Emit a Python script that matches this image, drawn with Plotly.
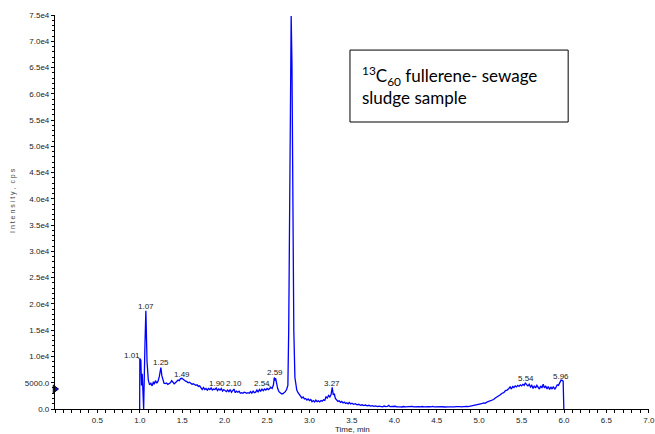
import plotly.graph_objects as go

# ---- data ----
time_min = [
    0.998, 1.000, 1.012, 1.020, 1.028, 1.036, 1.045, 1.060, 1.071, 1.085,
    1.100, 1.115, 1.130, 1.145, 1.160, 1.170, 1.185, 1.200, 1.215, 1.230,
    1.248, 1.260, 1.272, 1.285, 1.300, 1.315, 1.330, 1.345, 1.360, 1.375,
    1.390, 1.405, 1.420, 1.435, 1.450, 1.465, 1.480, 1.495, 1.510, 1.525,
    1.540, 1.555, 1.570, 1.585, 1.600, 1.615, 1.630, 1.645, 1.660, 1.675,
    1.690, 1.705, 1.720, 1.735, 1.750, 1.765, 1.780, 1.795, 1.810, 1.825,
    1.840, 1.855, 1.870, 1.885, 1.900, 1.915, 1.930, 1.945, 1.960, 1.975,
    1.990, 2.005, 2.020, 2.035, 2.050, 2.065, 2.080, 2.095, 2.110, 2.125,
    2.140, 2.155, 2.170, 2.185, 2.200, 2.215, 2.230, 2.245, 2.260, 2.275,
    2.290, 2.305, 2.320, 2.335, 2.350, 2.365, 2.380, 2.395, 2.410, 2.425,
    2.440, 2.455, 2.470, 2.485, 2.500, 2.515, 2.530, 2.545, 2.560, 2.575,
    2.585, 2.592, 2.600, 2.612, 2.625, 2.640, 2.655, 2.670, 2.685, 2.700,
    2.715, 2.730, 2.745, 2.755, 2.765, 2.775, 2.784, 2.793, 2.803, 2.815,
    2.828, 2.840, 2.850, 2.865, 2.880, 2.895, 2.910, 2.925, 2.940, 2.955,
    2.970, 2.985, 3.000, 3.015, 3.030, 3.045, 3.060, 3.075, 3.090, 3.105,
    3.120, 3.135, 3.150, 3.165, 3.180, 3.195, 3.210, 3.225, 3.240, 3.255,
    3.268, 3.280, 3.292, 3.305, 3.320, 3.335, 3.350, 3.365, 3.380, 3.395,
    3.410, 3.425, 3.440, 3.455, 3.470, 3.485, 3.500, 3.520, 3.540, 3.560,
    3.580, 3.600, 3.620, 3.640, 3.660, 3.680, 3.700, 3.720, 3.740, 3.760,
    3.780, 3.800, 3.820, 3.840, 3.860, 3.880, 3.900, 3.920, 3.935, 3.950,
    3.970, 3.990, 4.010, 4.030, 4.050, 4.070, 4.090, 4.110, 4.130, 4.150,
    4.170, 4.190, 4.210, 4.230, 4.250, 4.270, 4.290, 4.310, 4.330, 4.350,
    4.370, 4.390, 4.410, 4.430, 4.450, 4.470, 4.490, 4.510, 4.530, 4.550,
    4.570, 4.590, 4.610, 4.630, 4.650, 4.670, 4.690, 4.710, 4.730, 4.750,
    4.770, 4.790, 4.810, 4.830, 4.850, 4.870, 4.890, 4.910, 4.930, 4.950,
    4.970, 4.990, 5.010, 5.030, 5.050, 5.070, 5.090, 5.110, 5.130, 5.150,
    5.170, 5.190, 5.210, 5.230, 5.250, 5.270, 5.290, 5.310, 5.330, 5.350,
    5.365, 5.380, 5.395, 5.410, 5.425, 5.440, 5.455, 5.470, 5.485, 5.500,
    5.515, 5.530, 5.545, 5.560, 5.575, 5.590, 5.605, 5.620, 5.635, 5.650,
    5.665, 5.680, 5.695, 5.710, 5.725, 5.740, 5.755, 5.770, 5.785, 5.800,
    5.815, 5.830, 5.845, 5.860, 5.875, 5.890, 5.905, 5.920, 5.935, 5.950,
    5.965, 5.978, 5.990, 5.998,
]
intensity_cps = [
    0, 9600, 9300, 4500, 6700, 3000, 0, 12000, 18700, 9000,
    5500, 4600, 4900, 4400, 5200, 4700, 5400, 4900, 5300, 6200,
    7900, 6300, 5300, 4900, 4850, 4950, 4700, 4900, 5000, 5400,
    5100, 4800, 5000, 5300, 5500, 5400, 5800, 5850, 5600, 5500,
    5300, 5200, 5000, 5100, 4900, 4700, 4800, 4600, 4500, 4600,
    4300, 4400, 3900, 3700, 4100, 3700, 3900, 3600, 3900, 3700,
    4000, 3600, 3800, 3700, 4000, 3500, 3800, 3600, 3900, 3400,
    3700, 3500, 3300, 3600, 3300, 3700, 3200, 3500, 3800, 3100,
    3400, 3200, 3400, 3000, 3100, 3000, 3200, 3100, 3000, 3100,
    3000, 3300, 3000, 3400, 3100, 3200, 3600, 3200, 3700, 3400,
    3800, 3500, 3800, 3600, 3900, 3700, 3900, 4100, 3900, 4600,
    6000, 5400, 5900, 4700, 3900, 3300, 3000, 2900, 2900, 3100,
    3300, 3700, 4500, 15000, 40000, 68000, 74800, 66000, 40000, 15000,
    6000, 4000, 3600, 3100, 2700, 2500, 2100, 2300, 1900, 2000,
    1700, 1900, 1600, 1800, 1400, 1600, 1350, 1700, 1400, 1550,
    1350, 1600, 1500, 1750, 1650, 2300, 2100, 2600, 2300, 2800,
    4100, 2700, 2900, 2000, 1800, 1450, 1550, 1250, 1450, 1150,
    1300, 1050, 1200, 1000, 1250, 950, 1100, 900, 1000, 800,
    900, 700, 800, 650, 750, 600, 700, 550, 650, 500,
    600, 450, 550, 500, 420, 560, 450, 520, 700, 450,
    500, 420, 520, 400, 480, 420, 380, 470, 400, 450,
    380, 430, 500, 400, 460, 380, 440, 400, 470, 390,
    430, 380, 450, 400, 480, 390, 420, 380, 450, 400,
    430, 380, 460, 400, 420, 380, 450, 410, 470, 400,
    440, 420, 480, 430, 500, 450, 520, 480, 560, 600,
    700, 800, 900, 1000, 1150, 1100, 1300, 1400, 1600, 1700,
    1800, 2100, 2300, 2400, 2700, 3000, 3100, 3500, 3600, 3900,
    4200, 3800, 4300, 4100, 4400, 4200, 4500, 4300, 4600, 4400,
    4700, 4500, 5000, 4600, 4400, 4700, 4200, 4500, 3900, 4400,
    4000, 4500, 4100, 3800, 4400, 4000, 4700, 4000, 4400, 3800,
    4300, 3700, 4200, 3800, 4300, 3750, 4100, 4600, 4500, 5000,
    5500, 5450, 5300, 0,
]

peak_labels = ["1.01", "1.07", "1.25", "1.49", "1.90", "2.10",
               "2.54", "2.59", "2.79", "3.27", "5.54", "5.96"]
label_time = [0.906, 1.071, 1.248, 1.495, 1.908, 2.108,
              2.439, 2.592, 2.780, 3.264, 5.552, 5.965]
label_intensity = [10090, 19600, 8760, 6660, 4950, 4760,
                   4950, 7040, 76150, 4950, 5900, 6280]

cursor_time = [0.0]
cursor_intensity = [3800]

x_tick_vals = [0.5, 1.0, 1.5, 2.0, 2.5, 3.0, 3.5, 4.0, 4.5, 5.0, 5.5, 6.0, 6.5, 7.0]
x_tick_text = ["0.5", "1.0", "1.5", "2.0", "2.5", "3.0", "3.5", "4.0",
               "4.5", "5.0", "5.5", "6.0", "6.5", "7.0"]
y_tick_vals = [0, 5000, 10000, 15000, 20000, 25000, 30000, 35000, 40000,
               45000, 50000, 55000, 60000, 65000, 70000, 75000]
y_tick_text = ["0.0", "5000.0", "1.0e4", "1.5e4", "2.0e4", "2.5e4", "3.0e4",
               "3.5e4", "4.0e4", "4.5e4", "5.0e4", "5.5e4", "6.0e4", "6.5e4",
               "7.0e4", "7.5e4"]

FONT = "Liberation Sans, Arial, sans-serif"

fig = go.Figure()
fig.add_trace(go.Scatter(
    x=time_min, y=intensity_cps, mode="lines",
    line=dict(color="#0000ff", width=1.3), showlegend=False, hoverinfo="x+y",
))
fig.add_trace(go.Scatter(
    x=cursor_time, y=cursor_intensity, mode="markers", cliponaxis=False,
    marker=dict(symbol="triangle-right", size=7, color="#1010c0",
                line=dict(color="#000033", width=1)),
    showlegend=False, hoverinfo="skip",
))

for txt, tx, ty in zip(peak_labels, label_time, label_intensity):
    fig.add_annotation(x=tx, y=ty, text=txt, showarrow=False,
                       xanchor="center", yanchor="middle",
                       font=dict(family=FONT, size=8, color="#222222"))

# leader lines for the two offset labels
fig.add_annotation(x=1.0, y=9500, ax=-4, ay=-3, text="", showarrow=True,
                   arrowhead=0, arrowwidth=0.8, arrowcolor="#333333")
fig.add_annotation(x=2.55, y=4100, ax=-5, ay=-4, text="", showarrow=True,
                   arrowhead=0, arrowwidth=0.8, arrowcolor="#333333")

# axis titles
fig.add_annotation(xref="paper", yref="paper", x=-0.071, y=0.53,
                   text="I n t e n s i t y ,  c p s", textangle=-90,
                   showarrow=False, xanchor="center", yanchor="middle",
                   font=dict(family=FONT, size=7, color="#444444"))
fig.add_annotation(xref="paper", yref="paper", x=0.5, y=-0.053,
                   text="Time, min", showarrow=False,
                   xanchor="center", yanchor="middle",
                   font=dict(family=FONT, size=8, color="#222222"))

# legend-like text box
fig.add_shape(type="rect", xref="paper", yref="paper",
              x0=0.4966, x1=0.8639, y0=0.7284, y1=0.911,
              line=dict(color="#000000", width=1), fillcolor="white")
fig.add_annotation(xref="paper", yref="paper", x=0.513, y=0.82,
                   text="<sup>13</sup>C<sub>60</sub> fullerene- sewage<br>sludge sample",
                   showarrow=False, xanchor="left", yanchor="middle", align="left",
                   font=dict(family="Lato, Carlito, sans-serif", size=17, color="#000000"))

fig.update_layout(
    width=655, height=434,
    margin=dict(l=55, r=6, t=15, b=25, autoexpand=False),
    paper_bgcolor="white", plot_bgcolor="white",
    font=dict(family=FONT, size=8, color="#222222"),
)
fig.update_xaxes(
    range=[0, 7.002], showgrid=False, zeroline=False, automargin=False,
    showline=True, linecolor="#000000", linewidth=1.2,
    tickmode="array", tickvals=x_tick_vals, ticktext=x_tick_text,
    ticks="outside", ticklen=3, tickcolor="#000000", ticklabelstandoff=0,
    tickfont=dict(family=FONT, size=8, color="#222222"),
    minor=dict(dtick=0.1, tick0=0, ticks="outside", ticklen=3, tickcolor="#000000"),
)
fig.update_yaxes(
    range=[0, 75000], showgrid=False, zeroline=False, automargin=False,
    showline=True, linecolor="#000000", linewidth=1.2,
    tickmode="array", tickvals=y_tick_vals, ticktext=y_tick_text,
    ticks="outside", ticklen=3, tickcolor="#000000",
    tickfont=dict(family=FONT, size=8, color="#222222"),
    minor=dict(dtick=1000, tick0=0, ticks="outside", ticklen=2, tickcolor="#000000"),
)

fig.write_html("out.html", config={"displayModeBar": False},
               post_script="document.body.style.margin='0px';document.body.style.overflow='hidden';")
